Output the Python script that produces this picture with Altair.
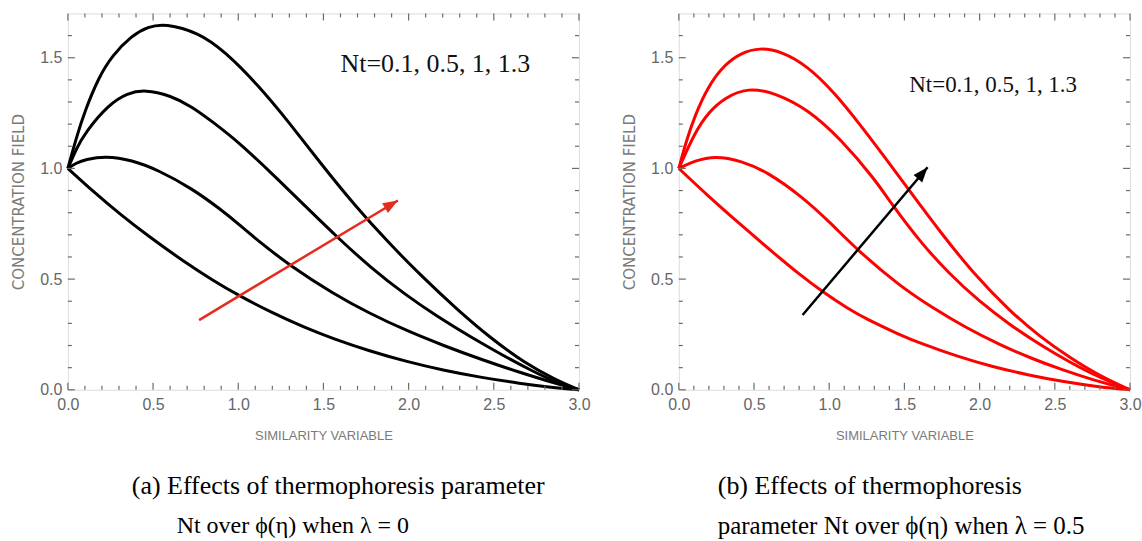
import math
import altair as alt
import pandas as pd

# ---------------- data ----------------
# Panel (a): lambda = 0, black curves
A_NT01_ETA = [0, 0.16, 0.30, 0.465, 0.683, 0.85, 1.0, 1.195, 1.39, 1.556, 1.77, 1.99, 2.21, 2.43, 2.65, 2.86, 3.0]
A_NT01_PHI = [1.0, 0.888, 0.797, 0.698, 0.578, 0.495, 0.427, 0.349, 0.281, 0.231, 0.175, 0.127, 0.087, 0.055, 0.029, 0.009, 0.0]
A_NT05_ETA = [0, 0.05, 0.102, 0.22, 0.375, 0.531, 0.727, 0.90, 1.0, 1.12, 1.303, 1.556, 1.77, 1.99, 2.21, 2.43, 2.65, 2.86, 3.0]
A_NT05_PHI = [1.0, 1.025, 1.04, 1.056, 1.038, 0.992, 0.91, 0.813, 0.75, 0.671, 0.561, 0.435, 0.345, 0.266, 0.198, 0.136, 0.079, 0.029, 0.0]
A_NT1_ETA = [0, 0.05, 0.10, 0.238, 0.35, 0.453, 0.60, 0.727, 0.85, 1.0, 1.2, 1.4, 1.58, 1.78, 1.98, 2.17, 2.37, 2.55, 2.72, 2.87, 3.0]
A_NT1_PHI = [1.0, 1.09, 1.16, 1.288, 1.34, 1.356, 1.33, 1.28, 1.21, 1.12, 0.975, 0.825, 0.69, 0.55, 0.43, 0.33, 0.236, 0.157, 0.087, 0.032, 0.0]
A_NT13_ETA = [0, 0.05, 0.10, 0.18, 0.26, 0.375, 0.47, 0.57, 0.766, 0.922, 1.117, 1.30, 1.48, 1.68, 1.88, 2.08, 2.28, 2.48, 2.68, 2.86, 3.0]
A_NT13_PHI = [1.0, 1.14, 1.26, 1.41, 1.51, 1.60, 1.64, 1.655, 1.614, 1.528, 1.376, 1.206, 1.026, 0.836, 0.666, 0.51, 0.366, 0.234, 0.122, 0.046, 0.0]

# Panel (b): lambda = 0.5, red curves
B_NT01_ETA = [0, 0.195, 0.417, 0.655, 0.803, 0.948, 1.13, 1.245, 1.467, 1.61, 1.85, 2.08, 2.32, 2.56, 2.80, 3.0]
B_NT01_PHI = [1.0, 0.875, 0.742, 0.604, 0.521, 0.446, 0.364, 0.32, 0.249, 0.209, 0.151, 0.105, 0.067, 0.036, 0.012, 0.0]
B_NT05_ETA = [0, 0.106, 0.239, 0.416, 0.593, 0.814, 1.0, 1.19, 1.467, 1.688, 1.91, 2.13, 2.35, 2.55, 2.75, 3.0]
B_NT05_PHI = [1.0, 1.035, 1.057, 1.035, 0.982, 0.875, 0.76, 0.629, 0.47, 0.37, 0.28, 0.205, 0.14, 0.09, 0.045, 0.0]
B_NT1_ETA = [0, 0.106, 0.195, 0.305, 0.46, 0.637, 0.858, 1.08, 1.30, 1.42, 1.60, 1.80, 2.0, 2.2, 2.4, 2.6, 2.8, 3.0]
B_NT1_PHI = [1.0, 1.162, 1.252, 1.32, 1.365, 1.342, 1.267, 1.13, 0.954, 0.834, 0.672, 0.522, 0.398, 0.294, 0.204, 0.124, 0.054, 0.0]
B_NT13_ETA = [0, 0.05, 0.106, 0.195, 0.305, 0.416, 0.537, 0.681, 0.858, 1.035, 1.212, 1.37, 1.533, 1.73, 1.96, 2.2, 2.4, 2.6, 2.8, 3.0]
B_NT13_PHI = [1.0, 1.125, 1.237, 1.372, 1.47, 1.523, 1.545, 1.53, 1.462, 1.342, 1.192, 1.05, 0.90, 0.72, 0.524, 0.356, 0.24, 0.145, 0.062, 0.0]

# arrows (start, tip) in data units
A_ARROW_ETA = [0.77, 1.937]
A_ARROW_PHI = [0.315, 0.855]
B_ARROW_ETA = [0.823, 1.654]
B_ARROW_PHI = [0.338, 1.005]

NOTE_TEXT = "Nt=0.1, 0.5, 1, 1.3"
A_NOTE_POS = [2.157, 1.47]
B_NOTE_POS = [2.09, 1.375]

X_MAJOR = [0.0, 0.5, 1.0, 1.5, 2.0, 2.5, 3.0]
X_MINOR = [0.1, 0.2, 0.3, 0.4, 0.6, 0.7, 0.8, 0.9, 1.1, 1.2, 1.3, 1.4, 1.6, 1.7, 1.8, 1.9,
           2.1, 2.2, 2.3, 2.4, 2.6, 2.7, 2.8, 2.9]
Y_MAJOR = [0.0, 0.5, 1.0, 1.5]
Y_MINOR = [0.1, 0.2, 0.3, 0.4, 0.6, 0.7, 0.8, 0.9, 1.1, 1.2, 1.3, 1.4, 1.6]

CAPTION_A = ["(a) Effects of thermophoresis parameter", "Nt over \u03d5(\u03b7) when \u03bb = 0"]
CAPTION_B = ["(b) Effects of thermophoresis", "parameter Nt over \u03d5(\u03b7) when \u03bb = 0.5"]

X_TITLE = "SIMILARITY VARIABLE"
Y_TITLE = "CONCENTRATION  FIELD"

# ---------------- layout / style ----------------
H = 377
W_A = 512
W_B = 452
X_DOM = [0, 3]
Y_DOM = [0, 1.7]
GRAY = "#6b6b6b"
LABEL_GRAY = "#666666"
TITLE_GRAY = "#7a7a7a"
HEAD_PATH = "M0,0 L0.38,1 L-0.38,1 Z"


def curves_df(pairs):
    rows = []
    for cid, (etas, phis) in enumerate(pairs):
        for i, (e, p) in enumerate(zip(etas, phis)):
            rows.append({"eta": e, "phi": p, "curve": cid, "idx": i})
    return pd.DataFrame(rows)


def panel(pairs, line_color, arrow_eta, arrow_phi, arrow_color, note_pos, note_size,
          captions, cap_x, cap_sizes, W):
    xs = alt.Scale(domain=X_DOM, nice=False, zero=False)
    ys = alt.Scale(domain=Y_DOM, nice=False, zero=False)
    xaxis = alt.Axis(values=X_MAJOR, format=".1f", ticks=False, domain=False, grid=False,
                     labelFont="Liberation Sans", labelFontSize=16, labelColor=LABEL_GRAY,
                     labelPadding=7, labelFlush=False, labelOverlap=False,
                     title=X_TITLE, titleFont="Liberation Sans", titleFontSize=13,
                     titleFontWeight="normal", titleColor=TITLE_GRAY, titlePadding=17)
    yaxis = alt.Axis(values=Y_MAJOR, format=".1f", ticks=False, domain=False, grid=False,
                     labelFont="Liberation Sans", labelFontSize=16, labelColor=LABEL_GRAY,
                     labelPadding=6, labelFlush=False, labelOverlap=False,
                     title=Y_TITLE, titleFont="DejaVu Sans", titleFontSize=15,
                     titleFontWeight="normal", titleColor=TITLE_GRAY, titlePadding=13)

    lines = alt.Chart(curves_df(pairs)).mark_line(
        interpolate="basis", strokeWidth=3, color=line_color
    ).encode(
        x=alt.X("eta:Q", scale=xs, axis=xaxis),
        y=alt.Y("phi:Q", scale=ys, axis=yaxis),
        detail="curve:N",
        order="idx:Q",
    )

    arrow_df = pd.DataFrame({"eta": arrow_eta, "phi": arrow_phi})
    shaft = alt.Chart(arrow_df).mark_line(color=arrow_color, strokeWidth=2.5).encode(
        x=alt.X("eta:Q", scale=xs), y=alt.Y("phi:Q", scale=ys)
    )
    dx = (arrow_eta[1] - arrow_eta[0]) * W / (X_DOM[1] - X_DOM[0])
    dy = (arrow_phi[1] - arrow_phi[0]) * H / (Y_DOM[1] - Y_DOM[0])
    ang = math.degrees(math.atan2(dx, dy))
    head = alt.Chart(arrow_df.iloc[[1]]).mark_point(
        shape=HEAD_PATH, size=900, filled=True, opacity=1, color=arrow_color, angle=ang,
        strokeWidth=0
    ).encode(x=alt.X("eta:Q", scale=xs), y=alt.Y("phi:Q", scale=ys))

    note = alt.Chart(pd.DataFrame({"eta": [note_pos[0]], "phi": [note_pos[1]], "t": [NOTE_TEXT]})).mark_text(
        font="Liberation Serif", fontSize=note_size, color="#111111", align="center", baseline="middle"
    ).encode(x=alt.X("eta:Q", scale=xs), y=alt.Y("phi:Q", scale=ys), text="t:N")

    def ticks(vals, axis_ch, length):
        df = pd.DataFrame({"v": vals})
        layers = []
        if axis_ch == "x":
            for y0, y1 in [(H, H - length), (0, length)]:
                layers.append(alt.Chart(df).mark_rule(color=GRAY, strokeWidth=1.2).encode(
                    x=alt.X("v:Q", scale=xs), y=alt.value(y0), y2=alt.value(y1)))
        else:
            for x0, x1 in [(0, length), (W, W - length)]:
                layers.append(alt.Chart(df).mark_rule(color=GRAY, strokeWidth=1.2).encode(
                    y=alt.Y("v:Q", scale=ys), x=alt.value(x0), x2=alt.value(x1)))
        return layers

    tick_layers = (ticks(X_MAJOR, "x", 7) + ticks(X_MINOR, "x", 4)
                   + ticks(Y_MAJOR, "y", 7) + ticks(Y_MINOR, "y", 4))

    cap_layers = []
    for (line, cx, cy, fs) in zip(captions, cap_x, [473, 513], cap_sizes):
        cap_layers.append(alt.Chart(pd.DataFrame({"t": [line]})).mark_text(
            font="Liberation Serif", fontSize=fs, color="#000000", align="left", baseline="middle"
        ).encode(x=alt.value(cx), y=alt.value(cy), text="t:N"))

    return alt.layer(lines, *tick_layers, shaft, head, note, *cap_layers).properties(width=W, height=H)


left = panel([(A_NT01_ETA, A_NT01_PHI), (A_NT05_ETA, A_NT05_PHI), (A_NT1_ETA, A_NT1_PHI), (A_NT13_ETA, A_NT13_PHI)],
             "#000000", A_ARROW_ETA, A_ARROW_PHI, "#e62b1e", A_NOTE_POS, 26, CAPTION_A, [64, 109], [26, 24], W_A)
right = panel([(B_NT01_ETA, B_NT01_PHI), (B_NT05_ETA, B_NT05_PHI), (B_NT1_ETA, B_NT1_PHI), (B_NT13_ETA, B_NT13_PHI)],
              "#ff0000", B_ARROW_ETA, B_ARROW_PHI, "#000000", B_NOTE_POS, 23, CAPTION_B, [39, 39], [26, 25], W_B)

chart = alt.hconcat(left, right, spacing=31).properties(
    padding={"left": 11, "top": 11, "right": 0, "bottom": 0}
).configure_view(stroke=GRAY, strokeWidth=1.5).configure(background="white")

chart.save("out.html", embed_options={"renderer": "svg", "actions": False})
